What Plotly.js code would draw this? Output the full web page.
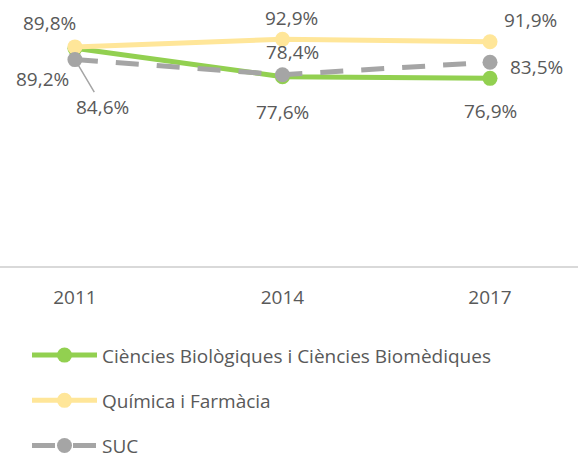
<!DOCTYPE html>
<html>
<head>
<meta charset="utf-8">
<script src="https://cdn.plot.ly/plotly-3.0.1.min.js"></script>
<style>html,body{margin:0;padding:0;background:#fff}#chart{width:578px;height:458px}</style>
</head>
<body>
<div id="chart"></div>
<script>
const years = ["2011", "2014", "2017"];
const seriesNames = ["Ciències Biològiques i Ciències Biomèdiques", "Química i Farmàcia", "SUC"];
const bio = [89.2, 77.6, 76.9];
const quim = [89.8, 92.9, 91.9];
const suc = [84.6, 78.4, 83.5];
const colors = ["#92D050", "#FFE699", "#A5A5A5"];
// label offsets in px (ax, ay) per series per point
const bioOff = [[-32, 31], [0, 35], [0, 33]];
const quimOff = [[-25, -24], [9, -21], [40, -22]];
const sucOff = [[28, 47], [10, -23], [46, 5]];

const fmt = v => v.toFixed(1).replace('.', ',') + '%';
const textColor = "#595959";
const mkFont = () => ({family: "Open Sans, sans-serif", size: 19, color: textColor});

function mk(name, y, color, group, dash) {
  return {
    type: 'scatter', mode: 'lines+markers', x: years, y: y, name: name,
    legendgroup: group,
    line: {color: color, width: 5, dash: dash || 'solid'},
    marker: {color: color, size: 15},
    hoverinfo: 'skip'
  };
}
const data = [
  mk(seriesNames[0], bio, colors[0], 'a'),
  mk(seriesNames[1], quim, colors[1], 'b'),
  mk(seriesNames[2], suc, colors[2], 'c', '23px,18px')
];

const annotations = [];
function addLabels(vals, offs, withLine) {
  vals.forEach((v, i) => {
    const leader = withLine && i === 0;
    annotations.push({
      x: i, y: v, xref: 'x', yref: 'y', text: fmt(v),
      showarrow: true, ax: offs[i][0], ay: offs[i][1],
      arrowhead: 0, arrowwidth: 1.5, standoff: leader ? 6 : 0,
      arrowcolor: leader ? '#A5A5A5' : 'rgba(255,255,255,0)',
      font: mkFont()
    });
  });
}
addLabels(bio, bioOff, false);
addLabels(quim, quimOff, false);
addLabels(suc, sucOff, true);

const layout = {
  width: 578, height: 458,
  margin: {l: 0, r: 0, t: 22, b: 192, autoexpand: false},
  paper_bgcolor: '#fff', plot_bgcolor: '#fff',
  showlegend: true,
  font: mkFont(),
  xaxis: {
    type: 'category', range: [-0.361, 2.424], showgrid: false, zeroline: false,
    showline: true, linecolor: '#D9D9D9', linewidth: 2,
    ticks: 'outside', ticklen: 13, tickcolor: 'rgba(255,255,255,0)',
    tickfont: mkFont(), fixedrange: true, automargin: false
  },
  yaxis: {range: [0, 100], visible: false, fixedrange: true},
  legend: {
    x: 27 / 578, xanchor: 'left', y: -0.288, yanchor: 'top',
    orientation: 'v', tracegroupgap: 17.5, itemwidth: 65,
    font: mkFont(), bgcolor: 'rgba(0,0,0,0)', traceorder: 'grouped'
  },
  annotations: annotations
};
try {
  Plotly.newPlot('chart', data, layout, {displayModeBar: false}).catch(e => {
    document.body.insertAdjacentHTML('beforeend', '<pre>' + e + '</pre>');
  });
} catch (e) {
  document.body.insertAdjacentHTML('beforeend', '<pre>' + e + '</pre>');
}
</script>
</body>
</html>
